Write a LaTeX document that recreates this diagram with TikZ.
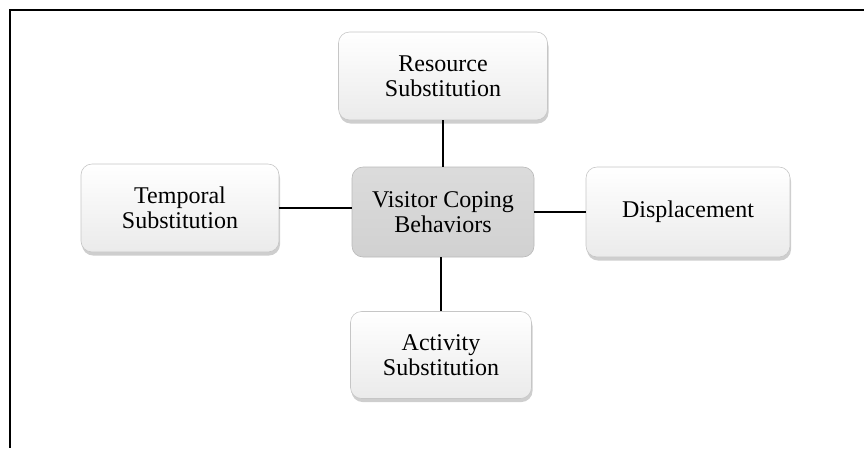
\documentclass[tikz,border=0pt]{standalone}
\usepackage{fontspec}
\setmainfont{Liberation Serif}
\usetikzlibrary{shadows}
\begin{document}
\begin{tikzpicture}[x=1pt,y=-1pt,
  box/.style={draw=gray!45, line width=0.6pt, rounded corners=11pt, top color=white, bottom color=gray!16,
    align=center, inner sep=0pt, font=\fontsize{24}{25}\selectfont,
    drop shadow={shadow xshift=1pt, shadow yshift=-3.5pt, fill=gray!70, opacity=0.55}},
  hub/.style={draw=gray!55, line width=0.6pt, rounded corners=11pt, top color=gray!28, bottom color=gray!36,
    align=center, inner sep=0pt, font=\fontsize{24}{25}\selectfont},
  link/.style={line width=1.4pt, black},
  frame/.style={line width=2.4pt, black}]
\useasboundingbox (0,0) rectangle (864,448);
\draw[frame] (864,10) -- (10,10) -- (10,448);
\node[box, minimum width=209pt, minimum height=88pt] (res) at (443,76) {Resource\\Substitution};
\node[box, minimum width=198pt, minimum height=88pt] (tem) at (180,208) {Temporal\\Substitution};
\node[box, minimum width=204pt, minimum height=90pt] (dis) at (688,212) {Displacement};
\node[box, minimum width=181pt, minimum height=87pt] (act) at (441,355) {Activity\\Substitution};
\node[hub, minimum width=182pt, minimum height=90pt] (hub) at (443,212) {Visitor Coping\\Behaviors};
\draw[link] (res.south) -- (hub.north);
\draw[link] (hub.south -| act.north) -- (act.north);
\draw[link] (tem.east) -- (tem.east -| hub.west);
\draw[link] (hub.east) -- (dis.west);
\end{tikzpicture}
\end{document}
